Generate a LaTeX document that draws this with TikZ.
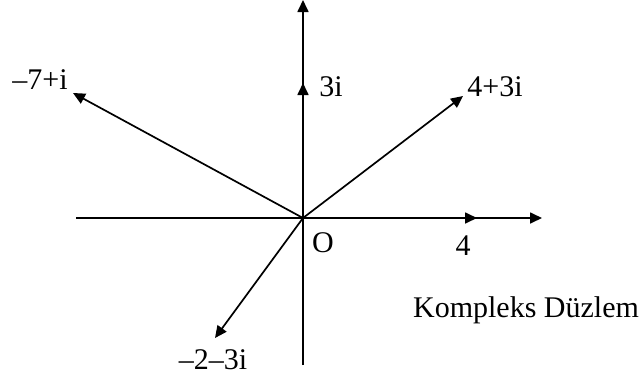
\documentclass[tikz,border=0pt]{standalone}
\usepackage{fontspec}
\setmainfont{Liberation Serif}
\usetikzlibrary{arrows.meta}

\tikzset{
    vec/.style={-{Triangle[length=12pt, width=11pt]}, line width=1.7pt},
    lbl/.style={font=\fontsize{30}{36}\selectfont, inner sep=0pt},
}

\begin{document}
\begin{tikzpicture}[x=1pt, y=-1pt]
    \useasboundingbox (0,0) rectangle (641,378);

    % --- Axes ---
    \coordinate (O) at (303,218);
    \coordinate (x_left) at (76,218);
    \coordinate (x_right) at (542,218);
    \coordinate (y_top) at (303,0);
    \coordinate (y_bottom) at (303,365);
    \draw[vec] (x_left) -- (x_right);
    \draw[vec] (y_bottom) -- (y_top);

    % --- Tips of the vectors ---
    \coordinate (p_four) at (477,218);
    \coordinate (p_three_i) at (303,83);
    \coordinate (p_four_three_i) at (463,96);
    \coordinate (p_minus_seven_i) at (73,93);
    \coordinate (p_minus_two_three_i) at (215,338);

    % --- Vectors from O ---
    \draw[vec] (O) -- (p_four);
    \draw[vec] (O) -- (p_three_i);
    \draw[vec] (O) -- (p_four_three_i);
    \draw[vec] (O) -- (p_minus_seven_i);
    \draw[vec] (O) -- (p_minus_two_three_i);

    % --- Labels ---
    \node[lbl] (lbl_O) at (323,243) {O};
    \node[lbl] (lbl_four) at (463,246) {4};
    \node[lbl] (lbl_three_i) at (331,87) {3i};
    \node[lbl] (lbl_four_three_i) at (495,87) {4+3i};
    \node[lbl] (lbl_minus_seven_i) at (40,80) {–7+i};
    \node[lbl] (lbl_minus_two_three_i) at (213,360) {–2–3i};
    \node[lbl] (lbl_plane) at (526,310) {Kompleks Düzlem};
\end{tikzpicture}
\end{document}
